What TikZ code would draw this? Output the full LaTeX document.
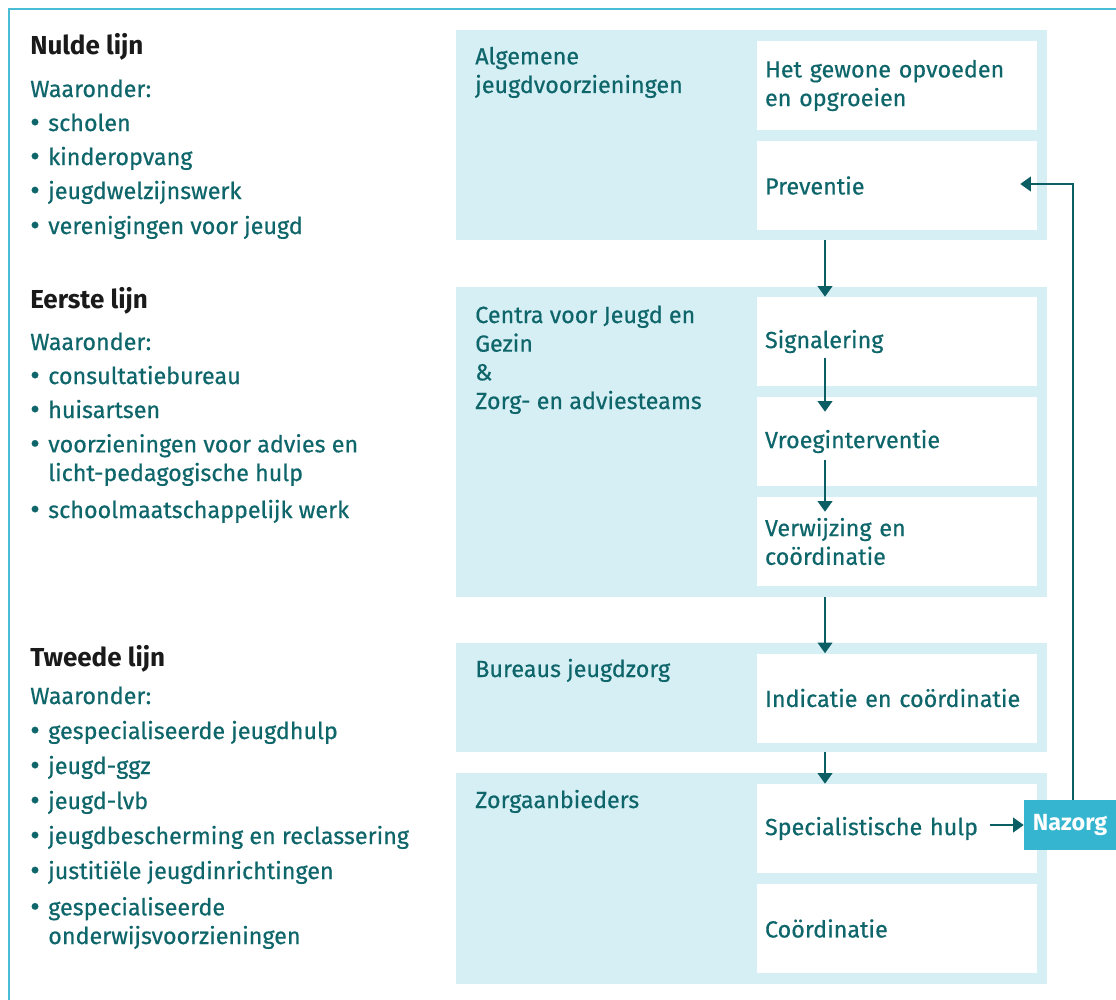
\documentclass[tikz,border=0pt]{standalone}
\usepackage{fontspec}
\setmainfont{Fira Sans}[FakeBold=0.5]
\newfontfamily\headfam{Fira Sans}
\usetikzlibrary{arrows.meta,calc,fit}
\definecolor{tealtxt}{HTML}{0E666B}
\definecolor{tealarr}{HTML}{0B5F64}
\definecolor{lblue}{HTML}{D6EFF4}
\definecolor{framecol}{HTML}{4ABDD6}
\definecolor{nazcol}{HTML}{36B5D0}
\definecolor{headcol}{HTML}{1A1A1A}
\newcommand{\bodyf}{\fontsize{17.5}{21.5}\selectfont}
\newcommand{\headf}{\headfam\fontsize{19.5}{22}\selectfont\bfseries}
\newcommand{\bul}{\makebox[13.5pt][l]{{\fontsize{22}{22}\selectfont\raisebox{-0.8pt}{•}}}}
\newcommand{\itind}{\hspace*{13.5pt}}
\begin{document}
\begin{tikzpicture}[x=0.75pt,y=-0.75pt,
  blk/.style={fill=lblue, inner sep=0pt, draw=none},
  wbox/.style={fill=white, minimum width=210pt, minimum height=66.75pt, inner xsep=6pt, inner ysep=0pt, text width=198pt, align=left, text=tealtxt, font=\bodyf},
  txt/.style={anchor=base west, inner sep=0pt, text=tealtxt, font=\bodyf, align=left},
  hd/.style={anchor=base west, inner sep=0pt, text=headcol, font=\headf},
  arr/.style={draw=tealarr, line width=1.5pt, -{Triangle[length=8pt,width=11pt]}},
  nazbox/.style={fill=nazcol, text=white, font=\headfam\fontsize{17.5}{20}\selectfont\bfseries, minimum width=69pt, minimum height=37.5pt, inner sep=0pt}
]
\useasboundingbox (0,0) rectangle (1116,999);
\fill[white] (0,0) rectangle (1116,999);
% frame
\draw[framecol, line width=1.5pt] (1117,9) -- (9,9) -- (9,1000);

% left column
\node[hd]  (h0)  at (30,55)  {Nulde lijn};
\node[txt] (w0)  at (30,97)  {Waaronder:};
\node[txt] (i01) at (30,131) {\bul scholen};
\node[txt] (i02) at (30,165) {\bul kinderopvang};
\node[txt] (i03) at (30,199) {\bul jeugdwelzijnswerk};
\node[txt] (i04) at (30,234) {\bul verenigingen voor jeugd};

\node[hd]  (h1)  at (30,308) {Eerste lijn};
\node[txt] (w1)  at (30,350) {Waaronder:};
\node[txt] (i11) at (30,384) {\bul consultatiebureau};
\node[txt] (i12) at (30,418) {\bul huisartsen};
\node[txt] (i13) at (30,481) {\bul voorzieningen voor advies en\\\itind licht-pedagogische hulp};
\node[txt] (i14) at (30,518) {\bul schoolmaatschappelijk werk};

\node[hd]  (h2)  at (30,666) {Tweede lijn};
\node[txt] (w2)  at (30,704) {Waaronder:};
\node[txt] (i21) at (30,739) {\bul gespecialiseerde jeugdhulp};
\node[txt] (i22) at (30,774) {\bul jeugd-ggz};
\node[txt] (i23) at (30,809) {\bul jeugd-lvb};
\node[txt] (i24) at (30,844) {\bul jeugdbescherming en reclassering};
\node[txt] (i25) at (30,879) {\bul justitiële jeugdinrichtingen};
\node[txt] (i26) at (30,944) {\bul gespecialiseerde\\\itind onderwijsvoorzieningen};

% blocks
\node[blk, fit={(456,30) (1047,240)}] (b1) {};
\node[blk, fit={(456,287) (1047,597)}] (b2) {};
\node[blk, fit={(456,643) (1047,752)}] (b3) {};
\node[blk, fit={(456,773) (1047,984)}] (b4) {};

\node[txt] (t1) at (475,93)  {Algemene\\jeugdvoorzieningen};
\node[txt] (t2) at (475,409) {Centra voor Jeugd en\\Gezin\\\&\\Zorg- en adviesteams};
\node[txt] (t3) at (475,677) {Bureaus jeugdzorg};
\node[txt] (t4) at (475,808) {Zorgaanbieders};

% white boxes
\node[wbox] (go)  at (897,85.5)  {Het gewone opvoeden\\en opgroeien};
\node[wbox] (pv)  at (897,185.5) {Preventie};
\node[wbox] (sig) at (897,341.5) {Signalering};
\node[wbox] (vro) at (897,441.5) {Vroeginterventie};
\node[wbox] (ver) at (897,541.5) {Verwijzing en\\coördinatie};
\node[wbox] (ind) at (897,698)   {Indicatie en coördinatie};
\node[wbox] (sh)  at (897,828.5) {Specialistische hulp};
\node[wbox] (co)  at (897,928.5) {Coördinatie};

\node[nazbox] (nz) at (1070,825) {Nazorg};

% arrows
\coordinate (ax) at (825,0);
\coordinate (shout) at (990,825);
\draw[arr] (b1.south -| ax) -- (sig.north -| ax);
\draw[arr] ($(sig.center -| ax)+(0,16)$) -- ($(vro.north -| ax)+(0,15)$);
\draw[arr] ($(vro.center -| ax)+(0,18)$) -- ($(ver.north -| ax)+(0,15)$);
\draw[arr] (b2.south -| ax) -- (ind.north -| ax);
\draw[arr] (b3.south -| ax) -- (sh.north -| ax);
\draw[arr] (shout) -- (nz.west);
\draw[arr] ($(nz.north)+(3,0)$) |- ($(pv.east)+(-17,-1.5)$);
\end{tikzpicture}
\end{document}
